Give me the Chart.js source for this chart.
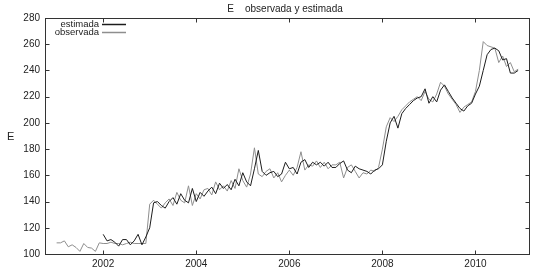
<!DOCTYPE html>
<html>
<head>
<meta charset="utf-8">
<script src="https://cdn.jsdelivr.net/npm/chart.js@4/dist/chart.umd.min.js"></script>
<style>
  html, body { margin: 0; padding: 0; background: #fff; }
</style>
</head>
<body>
<canvas id="grafico" width="540" height="275"></canvas>
<script>
// --- Textos y ejes ---
const titulo = 'E    observada y estimada';
const etiquetaY = 'E';
const ticksX = [2002, 2004, 2006, 2008, 2010];
const ticksY = [100, 120, 140, 160, 180, 200, 220, 240, 260, 280];

// --- Series mensuales (observada desde ene-2001, estimada desde ene-2002) ---
const inicioObservada = 2001;
const inicioEstimada = 2002;

const observada = [
  108.5, 108.5, 110, 105.5, 107, 105, 102, 108, 105, 104.5, 102, 108.5,
  108, 108, 109, 108, 108, 107, 108, 109, 108, 108, 108, 108,
  138, 141, 138, 135, 139, 142, 137, 147, 141, 139, 152, 137,
  146, 142, 149, 150, 145, 155, 149, 152, 148, 156, 150, 165,
  156, 151, 161, 181, 161, 159, 163, 165, 158, 162, 155, 160,
  164, 160, 166, 178, 164, 168, 167, 171, 166, 170, 165, 168,
  168, 170, 158, 166, 168, 163, 158, 162, 161, 164, 163, 166,
  180, 197, 204, 201, 205, 210, 213, 216, 218, 220, 217, 224,
  218, 216, 222, 231, 228, 222, 218, 214, 208, 212, 214, 216,
  224, 240, 262, 259, 258, 257, 246, 251, 243, 246, 239, 241
];

const estimada = [
  115, 110, 111, 109, 106, 111, 111, 107, 110, 115, 107, 113,
  120, 139, 140, 137, 135, 140, 143, 138, 146, 141, 139, 150,
  140, 147, 144, 148, 151, 146, 154, 150, 153, 149, 157, 152,
  162, 155, 152, 165, 179, 163, 160, 162, 163, 159, 161, 170,
  165, 166, 161, 170, 172, 166, 170, 168, 170, 167, 170, 166,
  166, 169, 171, 164, 162, 167, 165, 164, 163, 161, 164, 165,
  168, 186, 200, 205, 196, 207, 211, 214, 217, 219, 220, 226,
  215, 220, 216, 225, 229, 224, 219, 215, 211, 209, 213, 215,
  222, 228, 240, 252, 256, 257, 255, 248, 249, 238, 238, 240
];

const fuente = "'Liberation Sans Narrow', 'Liberation Sans', Arial, sans-serif";
const colorEstimada = '#1c1c1c';
const colorObservada = '#8e8e8e';

function aPuntos(serie, inicio) {
  return serie.map((v, i) => ({ x: inicio + i / 12, y: v }));
}

// marco tipo gnuplot: caja, ticks hacia dentro, título, leyenda
const marcoPlugin = {
  id: 'marco',
  afterDraw(chart) {
    const { ctx, chartArea: a, scales } = chart;
    const L = Math.round(a.left) + 0.5, R = Math.round(a.right) + 0.5;
    const T = Math.round(a.top) + 0.5, B = Math.round(a.bottom) + 0.5;
    ctx.save();
    ctx.setTransform(1, 0, 0, 1, 0, 0);
    ctx.strokeStyle = '#333';
    ctx.lineWidth = 1;
    ctx.strokeRect(L, T, R - L, B - T);

    ctx.beginPath();
    ticksX.forEach(v => {
      const px = Math.round(scales.x.getPixelForValue(v)) + 0.5;
      ctx.moveTo(px, B); ctx.lineTo(px, B - 4);
      ctx.moveTo(px, T); ctx.lineTo(px, T + 4);
    });
    ticksY.forEach(v => {
      const py = Math.round(scales.y.getPixelForValue(v)) + 0.5;
      ctx.moveTo(L, py); ctx.lineTo(L + 4, py);
      ctx.moveTo(R, py); ctx.lineTo(R - 4, py);
    });
    ctx.stroke();

    // título
    ctx.fillStyle = '#222';
    ctx.font = '10px ' + fuente;
    ctx.textAlign = 'center';
    ctx.textBaseline = 'middle';
    ctx.fillText(titulo, (a.left + a.right) / 2 - 2, 9);

    // etiqueta eje Y (sin rotar)
    ctx.textAlign = 'left';
    ctx.font = '11px ' + fuente;
    ctx.fillText(etiquetaY, 7, (a.top + a.bottom) / 2 + 1);

    // leyenda
    ctx.textAlign = 'right';
    ctx.font = '9.5px ' + fuente;
    chart.data.datasets.forEach((ds, i) => {
      const y = 24 + i * 8;
      ctx.fillStyle = '#222';
      ctx.fillText(ds.label, 99, y);
      ctx.strokeStyle = ds.borderColor;
      ctx.lineWidth = 1.5;
      ctx.beginPath();
      ctx.moveTo(102, y + 0.5); ctx.lineTo(126, y + 0.5);
      ctx.stroke();
    });
    ctx.restore();
  }
};

new Chart(document.getElementById('grafico'), {
  type: 'line',
  data: {
    datasets: [
      {
        label: 'estimada',
        data: aPuntos(estimada, inicioEstimada),
        borderColor: colorEstimada,
        borderWidth: 1,
        pointRadius: 0,
        tension: 0,
        fill: false
      },
      {
        label: 'observada',
        data: aPuntos(observada, inicioObservada),
        borderColor: colorObservada,
        borderWidth: 1,
        pointRadius: 0,
        tension: 0,
        fill: false
      }
    ]
  },
  options: {
    responsive: false,
    animation: false,
    devicePixelRatio: 1,
    layout: { padding: { top: 18, right: 11, left: 0, bottom: 0 } },
    plugins: {
      legend: { display: false },
      title: { display: false },
      tooltip: { enabled: false }
    },
    scales: {
      x: {
        type: 'linear',
        min: 2000.75,
        max: 2011.15,
        afterBuildTicks: s => { s.ticks = ticksX.map(v => ({ value: v })); },
        afterFit: s => { s.height = 21; },
        grid: { display: false, drawTicks: false },
        border: { display: false },
        ticks: {
          color: '#222',
          font: { family: fuente, size: 10 },
          padding: 4,
          maxRotation: 0,
          autoSkip: false,
          callback: v => String(v)
        }
      },
      y: {
        min: 100,
        max: 280,
        afterBuildTicks: s => { s.ticks = ticksY.map(v => ({ value: v })); },
        afterFit: s => { s.width = 45; },
        grid: { display: false, drawTicks: false },
        border: { display: false },
        ticks: {
          color: '#222',
          font: { family: fuente, size: 10 },
          padding: 5,
          autoSkip: false,
          callback: v => String(v)
        }
      }
    }
  },
  plugins: [marcoPlugin]
});
</script>
</body>
</html>
